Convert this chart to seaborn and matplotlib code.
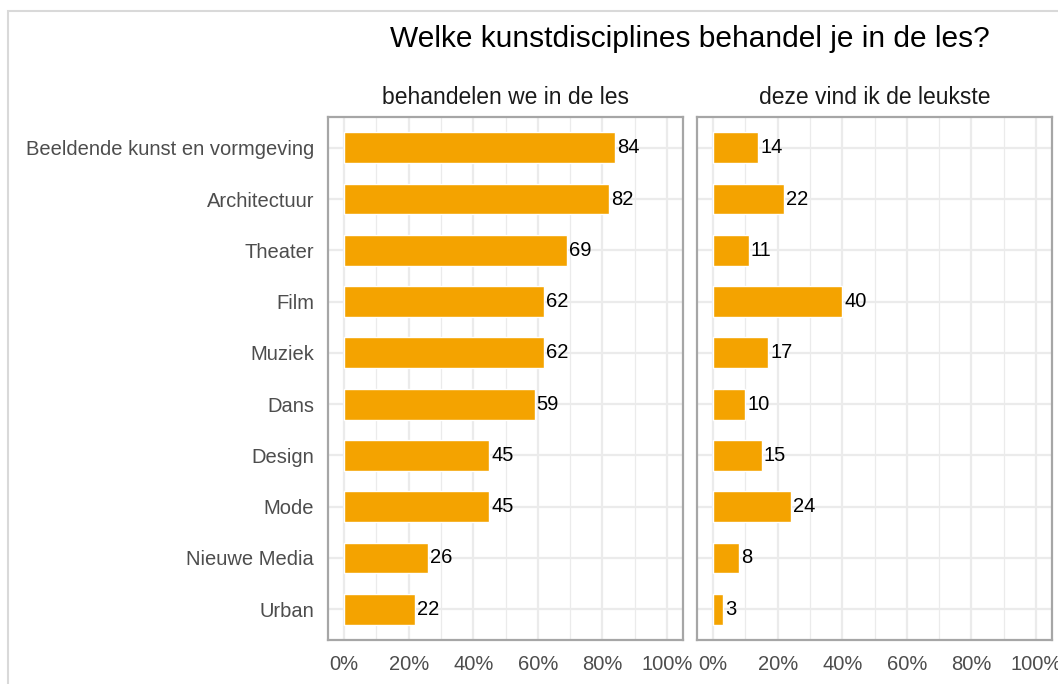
import seaborn as sns
import matplotlib.pyplot as plt
import matplotlib.patches as patches
from matplotlib.ticker import MultipleLocator, FuncFormatter
import pandas as pd

# Data
disciplines = ['Beeldende kunst en vormgeving', 'Architectuur', 'Theater', 'Film',
               'Muziek', 'Dans', 'Design', 'Mode', 'Nieuwe Media', 'Urban']
behandelen = [84, 82, 69, 62, 62, 59, 45, 45, 26, 22]
leukste = [14, 22, 11, 40, 17, 10, 15, 24, 8, 3]
panel_titles = ['behandelen we in de les', 'deze vind ik de leukste']
title = 'Welke kunstdisciplines behandel je in de les?'

df = pd.DataFrame({
    'discipline': disciplines * 2,
    'pct': behandelen + leukste,
    'panel': [panel_titles[0]] * len(disciplines) + [panel_titles[1]] * len(disciplines),
})

sns.set_style('white')
plt.rcParams['font.family'] = ['Liberation Sans', 'DejaVu Sans']

bar_color = '#F4A300'
grid_color = '#EBEBEB'
border_color = '#A6A6A6'

fig = plt.figure(figsize=(10.58, 6.84), dpi=100)
W, H = 1058, 684
panel_w, panel_h = 355, 523
lefts = [328, 697]
top = 117

for i, name in enumerate(panel_titles):
    ax = fig.add_axes([lefts[i] / W, (H - top - panel_h) / H, panel_w / W, panel_h / H])
    sub = df[df['panel'] == name]
    sns.barplot(data=sub, x='pct', y='discipline', order=disciplines, color=bar_color,
                width=0.6, orient='h', ax=ax, saturation=1)
    ax.bar_label(ax.containers[0], labels=[str(v) for v in sub['pct']], padding=1.5,
                 fontsize=14.5, color='black')
    ax.set_xlim(-5, 105)
    ax.set_ylim(len(disciplines) - 0.4, -0.6)
    ax.xaxis.set_major_locator(MultipleLocator(20))
    ax.xaxis.set_minor_locator(MultipleLocator(10))
    ax.xaxis.set_major_formatter(FuncFormatter(lambda v, p: f'{int(v)}%'))
    ax.set_axisbelow(True)
    ax.grid(True, which='major', axis='both', color=grid_color, linewidth=1.6)
    ax.grid(True, which='minor', axis='x', color=grid_color, linewidth=0.9)
    ax.tick_params(axis='both', which='both', length=0)
    ax.tick_params(axis='x', labelsize=14.5, labelcolor='#4D4D4D', pad=11)
    ax.tick_params(axis='y', labelsize=14.5, labelcolor='#4D4D4D', pad=10)
    ax.set_xlabel('')
    ax.set_ylabel('')
    if i == 1:
        ax.set_yticklabels([])
    for s in ax.spines.values():
        s.set_visible(True)
        s.set_color(border_color)
        s.set_linewidth(1.6)
    ax.set_title(name, fontsize=16.5, color='#1A1A1A', pad=9)

fig.text(690 / W, 1 - 39 / H, title, ha='center', va='center', fontsize=21.5, color='black')

# light outer frame
fig.patches.append(patches.Rectangle((8 / W, -0.1), 1.2, 1 - 11 / H + 0.1,
                                     transform=fig.transFigure, fill=False,
                                     edgecolor='#D9D9D9', linewidth=1.5))

fig.savefig('out.png', dpi=100)
